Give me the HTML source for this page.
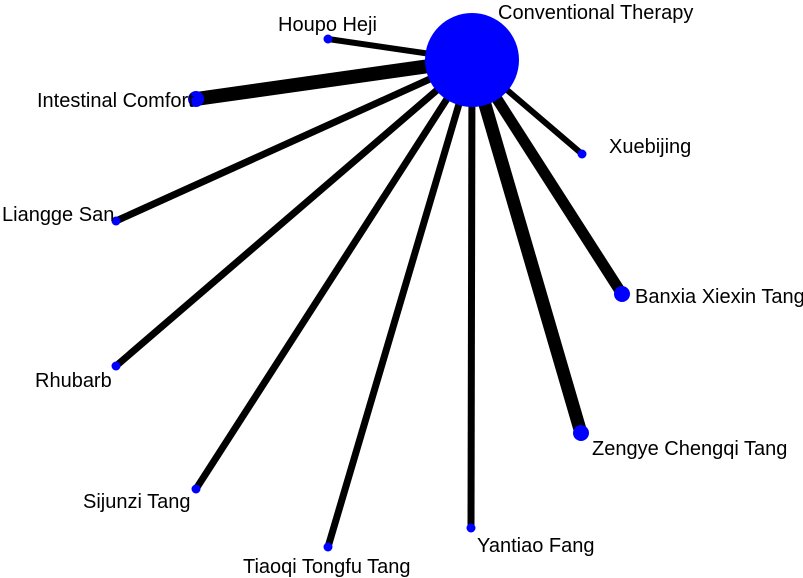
<!DOCTYPE html>
<html><head><meta charset="utf-8"><style>
html,body{margin:0;padding:0;background:#fff;}
svg{display:block;}
text{font-family:"Liberation Sans",Arial,sans-serif;font-size:20px;fill:#000;}
</style></head><body>
<svg width="803" height="578" viewBox="0 0 803 578" xmlns="http://www.w3.org/2000/svg">
<g stroke="#000" stroke-linecap="butt">
<line x1="472" y1="60" x2="328" y2="39" stroke-width="6"/>
<line x1="472" y1="60" x2="196" y2="99" stroke-width="14"/>
<line x1="472" y1="60" x2="116" y2="221" stroke-width="7"/>
<line x1="472" y1="60" x2="116" y2="366" stroke-width="7"/>
<line x1="472" y1="60" x2="196" y2="489" stroke-width="7"/>
<line x1="472" y1="60" x2="328" y2="547" stroke-width="7"/>
<line x1="472" y1="60" x2="471" y2="528" stroke-width="7"/>
<line x1="472" y1="60" x2="581" y2="433" stroke-width="13"/>
<line x1="472" y1="60" x2="622" y2="294" stroke-width="11"/>
<line x1="472" y1="60" x2="582" y2="154" stroke-width="6"/>
</g>
<g fill="#0000ff">
<circle cx="472" cy="60" r="47"/>
<circle cx="328" cy="39" r="4.5"/>
<circle cx="196" cy="99" r="8"/>
<circle cx="116" cy="221" r="4.5"/>
<circle cx="116" cy="366" r="4.5"/>
<circle cx="196" cy="489" r="4.5"/>
<circle cx="328" cy="547" r="4.5"/>
<circle cx="471" cy="528" r="4.5"/>
<circle cx="581" cy="433" r="8"/>
<circle cx="622" cy="294" r="8"/>
<circle cx="582" cy="154" r="4.5"/>
</g>
<text x="498" y="19">Conventional Therapy</text>
<text x="278" y="31">Houpo Heji</text>
<text x="37" y="107">Intestinal Comfort</text>
<text x="609" y="153">Xuebijing</text>
<text x="2" y="221">Liangge San</text>
<text x="35" y="387">Rhubarb</text>
<text x="83" y="508">Sijunzi Tang</text>
<text x="243" y="573">Tiaoqi Tongfu Tang</text>
<text x="477" y="552">Yantiao Fang</text>
<text x="592" y="455">Zengye Chengqi Tang</text>
<text x="635" y="303">Banxia Xiexin Tang</text>
</svg>
</body></html>
